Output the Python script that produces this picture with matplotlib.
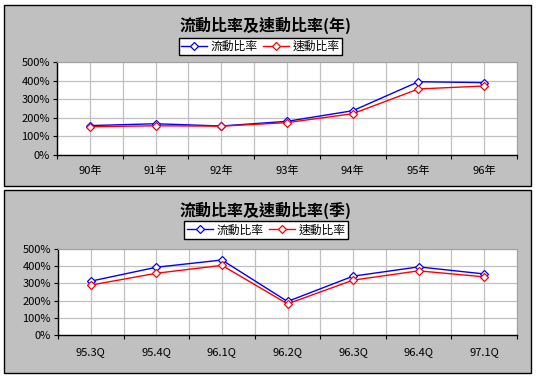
import matplotlib
matplotlib.use("Agg")
import matplotlib.pyplot as plt
from matplotlib.patches import Rectangle
import numpy as np

plt.rcParams['font.family'] = ['Noto Sans CJK TC', 'DejaVu Sans']

years = ['90年', '91年', '92年', '93年', '94年', '95年', '96年']
year_current = [158, 168, 156, 181, 238, 394, 389]
year_quick = [152, 157, 155, 174, 222, 355, 371]

quarters = ['95.3Q', '95.4Q', '96.1Q', '96.2Q', '96.3Q', '96.4Q', '97.1Q']
q_current = [313, 394, 436, 195, 342, 396, 355]
q_quick = [290, 359, 405, 181, 319, 373, 338]

yticks = [0, 100, 200, 300, 400, 500]
ytick_labels = ['0%', '100%', '200%', '300%', '400%', '500%']

W, H = 538, 379
fig = plt.figure(figsize=(W / 100, H / 100), dpi=100)
fig.patch.set_facecolor('white')


def fx(x):
    return x / W


def fy(y):
    return 1 - y / H


def panel(x0, y0, x1, y1):
    r = Rectangle((fx(x0), fy(y1)), fx(x1 - x0), (y1 - y0) / H,
                  transform=fig.transFigure, facecolor='#C0C0C0',
                  edgecolor='black', linewidth=1.0, zorder=-5)
    fig.patches.append(r)


def draw(ax_box, cats, s1, s2, title, title_y, leg_box, label_pad):
    x0, y0, x1, y1 = ax_box
    ax = fig.add_axes([fx(x0), fy(y1), fx(x1 - x0), (y1 - y0) / H])
    ax.set_facecolor('white')
    x = np.arange(len(cats))
    ax.plot(x, s1, color='#0000FF', lw=1.0, marker='D', ms=4.2,
            mfc='white', mec='#0000FF', mew=0.9, label='流動比率', zorder=3)
    ax.plot(x, s2, color='#FF0000', lw=1.0, marker='D', ms=4.2,
            mfc='white', mec='#FF0000', mew=0.9, label='速動比率', zorder=3)
    ax.set_xlim(-0.5, len(cats) - 0.5)
    ax.set_ylim(0, 500)
    ax.set_xticks(np.arange(-0.5, len(cats), 1.0))
    ax.set_xticklabels([])
    ax.set_xticks(x, minor=True)
    ax.set_xticklabels(cats, minor=True, fontsize=8)
    ax.tick_params(axis='x', which='major', length=3, direction='out', color='black')
    ax.tick_params(axis='x', which='minor', length=0, pad=label_pad)
    ax.set_yticks(yticks)
    ax.set_yticklabels(ytick_labels, fontsize=8)
    ax.tick_params(axis='y', length=3, direction='out', pad=2)
    ax.grid(True, which='both', axis='x', color='#C0C0C0', lw=0.9)
    ax.grid(True, which='major', axis='y', color='#C0C0C0', lw=0.9)
    ax.set_axisbelow(True)
    for s in ['top', 'right']:
        ax.spines[s].set_color('#A0A0A0')
    for s in ['left', 'bottom']:
        ax.spines[s].set_color('black')
        ax.spines[s].set_linewidth(1.0)
    fig.text(fx(265), fy(title_y), title, ha='center', va='center',
             fontsize=11.5, fontweight='bold')
    lx0, ly0, lx1, ly1 = leg_box
    leg = fig.legend(handles=ax.get_lines(), loc='center',
                     bbox_to_anchor=(fx((lx0 + lx1) / 2), fy((ly0 + ly1) / 2)),
                     ncol=2, fontsize=8.5, frameon=True, fancybox=False,
                     edgecolor='black', framealpha=1, borderpad=0.2,
                     handlelength=2.2, handletextpad=0.3, columnspacing=0.5,
                     borderaxespad=0)
    leg.get_frame().set_linewidth(1.0)
    return ax


panel(4, 5, 531, 186)
panel(4, 190, 531, 373)

draw((57, 62, 517, 155), years, year_current, year_quick,
     '流動比率及速動比率(年)', 25, (180, 36, 341, 57), 8)
draw((58, 249, 517, 335), quarters, q_current, q_quick,
     '流動比率及速動比率(季)', 210, (186, 220, 346, 240), 9)

fig.savefig('out.png', dpi=100)
